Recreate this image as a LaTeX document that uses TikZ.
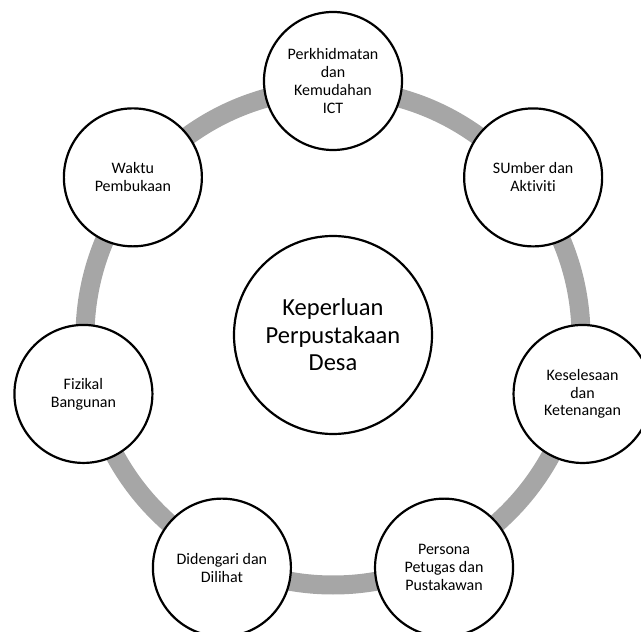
\documentclass[tikz,border=0pt]{standalone}
\usepackage{fontspec}
\setmainfont{Carlito}[Ligatures=NoCommon]
\definecolor{ringgray}{HTML}{A6A6A6}

\begin{document}
\begin{tikzpicture}[x=1pt,y=1pt,
    topic/.style={circle,draw=black,fill=white,line width=2.2pt,
        inner sep=0pt,minimum size=138pt,align=center,
        font=\fontsize{16}{17.8}\selectfont},
    hub/.style={circle,draw=black,fill=white,line width=2.2pt,
        inner sep=0pt,minimum size=198pt,align=center,
        font=\fontsize{24.5}{27.5}\selectfont}]
      \useasboundingbox (-333,-295) rectangle (308,337);
      % ring behind the topics
      \draw[ringgray,line width=19pt] (0,0) circle (248pt);
      \node[hub] (hub) at (0,2) {Keperluan\\Perpustakaan\\Desa};
      \node[topic] (ict) at (90:256pt) {Perkhidmatan\\dan\\Kemudahan\\ICT};
      \node[topic] (sumber) at (90-51.43:256pt) {SUmber dan\\Aktiviti};
      \node[topic] (selesa) at (90-2*51.43:256pt) {Keselesaan\\dan\\Ketenangan};
      \node[topic] (persona) at (90-3*51.43:256pt) {Persona\\Petugas dan\\Pustakawan};
      \node[topic] (dengar) at (90-4*51.43:256pt) {Didengari dan\\Dilihat};
      \node[topic] (fizikal) at (90-5*51.43:256pt) {Fizikal\\Bangunan};
      \node[topic] (waktu) at (90-6*51.43:256pt) {Waktu\\Pembukaan};
    \end{tikzpicture}
\end{document}
